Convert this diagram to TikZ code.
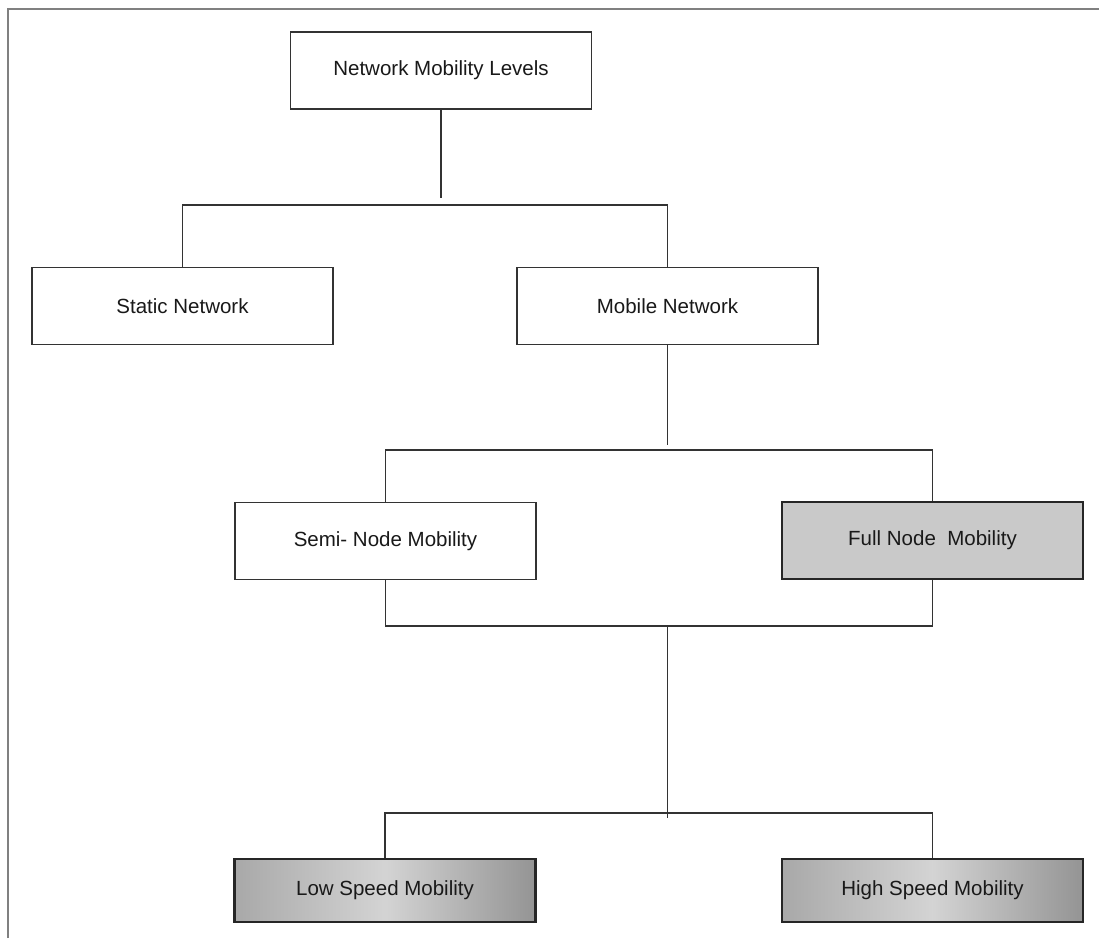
\documentclass[tikz,border=0pt]{standalone}
\usepackage{fontspec}
\setmainfont{Liberation Sans}
\usepackage{tikz}
\tikzset{
every node/.style={rectangle, draw=black!80, line width=1.3pt, fill=white, inner sep=0pt,
  minimum width=301pt, minimum height=77pt, text=black!90, font=\fontsize{20.5}{24}\selectfont},
thickbox/.style={draw=black!85, line width=2.8pt},
fullbox/.style={thickbox, fill=black!21},
speedbox/.style={thickbox, minimum height=63pt, left color=black!34, right color=black!42, middle color=black!17},
link/.style={draw=black!80, line width=1.3pt}
}
\begin{document}
\begin{tikzpicture}[x=1pt, y=-1pt]
\useasboundingbox (0,0) rectangle (1099,938);
\draw [black!50, line width=2pt] (8,938) -- (8,9) -- (1099,9);

\node (NML) at (441,70.5) {Network Mobility Levels};
\node (SN) at (182.5,306) {Static Network};
\node (MN) at (667.5,306) {Mobile Network};
\node (SNM) at (385.5,541) {Semi- Node Mobility};
\node [fullbox] (FNM) at (932.5,540.5) {Full Node\ \ Mobility};
\node [speedbox] (LSM) at (385,890.5) {Low Speed Mobility};
\node [speedbox] (HSM) at (932.5,890.5) {High Speed Mobility};

\coordinate (J0) at (441,198);
\coordinate (J1) at (441,205);
\coordinate (J2) at (667.5,445);
\coordinate (J3) at (667.5,450);
\coordinate (J4) at (667.5,626);
\coordinate (J5) at (667.5,818);
\coordinate (J6) at (667.5,813);

\draw [link] (NML.south) -- (J0);
\draw [link] (SN.north) |- (J1) -| (MN.north);
\draw [link] (MN.south) -- (J2);
\draw [link] (SNM.north) |- (J3) -| (FNM.north);
\draw [link] (SNM.south) |- (J4) -| (FNM.south);
\draw [link] (J4) -- (J5);
\draw [link] (LSM.north) |- (J6) -| (HSM.north);
\end{tikzpicture}
\end{document}
